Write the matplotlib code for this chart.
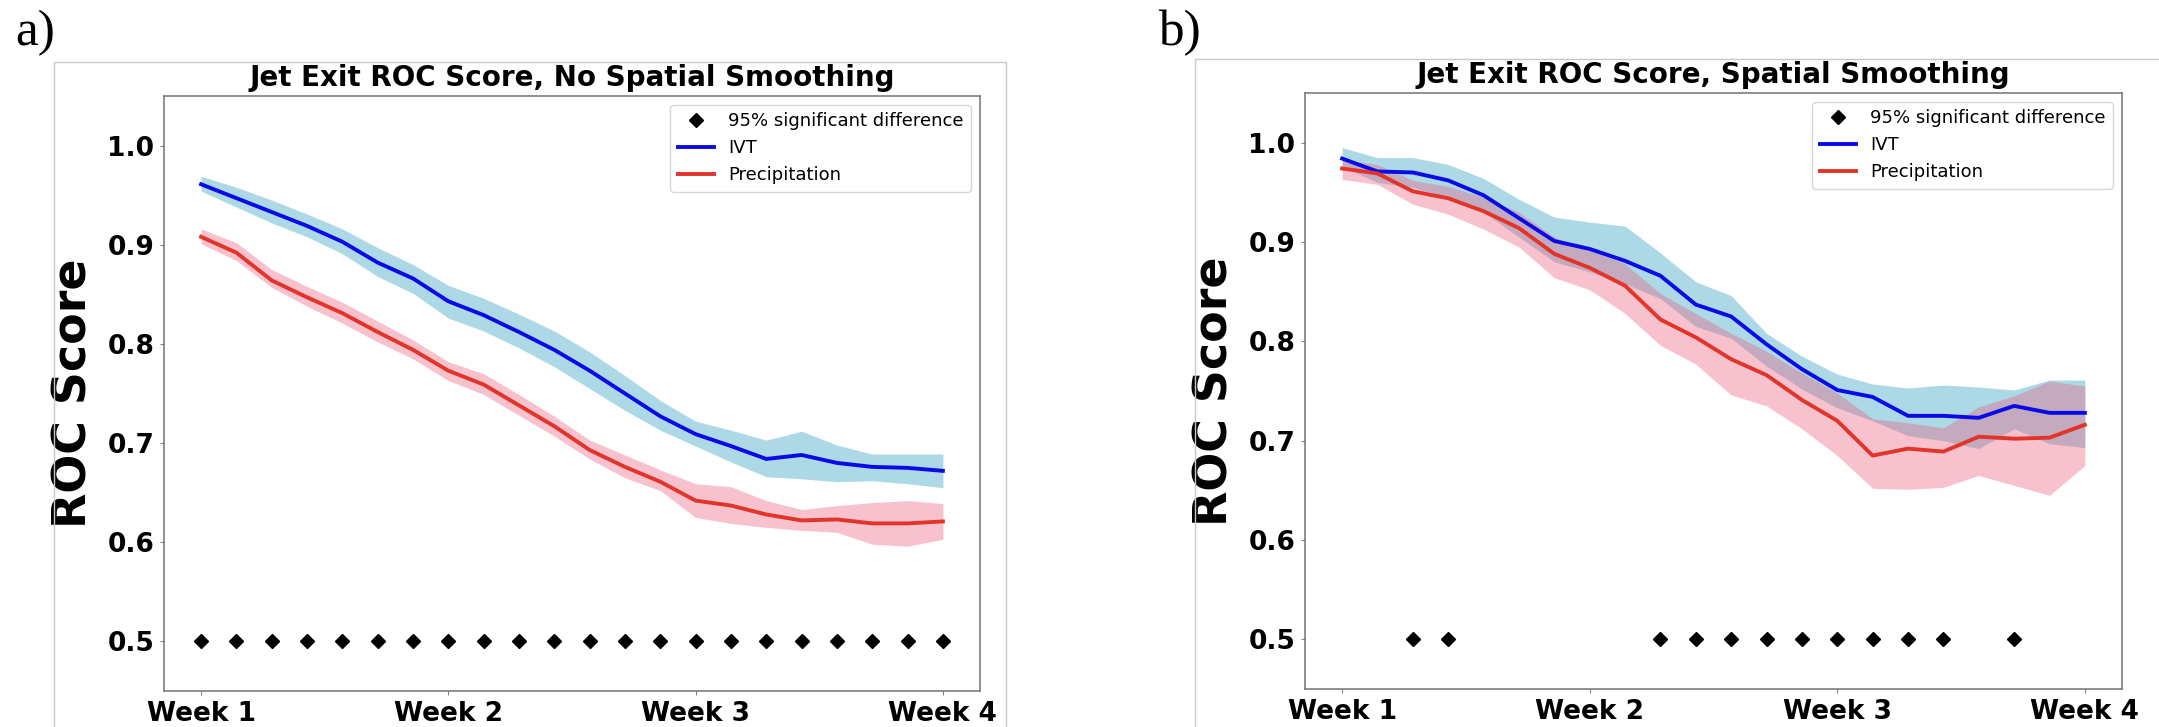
import matplotlib
matplotlib.use("Agg")
import matplotlib.pyplot as plt
from matplotlib.patches import Rectangle
import numpy as np

# x axis: 22 lead times, ticks at every 7th
weeks = ["Week 1", "Week 2", "Week 3", "Week 4"]
week_idx = [0, 7, 14, 21]

# panel a) no spatial smoothing
ivt_a = [0.961, 0.947, 0.933, 0.919, 0.903, 0.882, 0.866, 0.843, 0.829, 0.812, 0.794,
         0.773, 0.750, 0.727, 0.709, 0.697, 0.684, 0.688, 0.680, 0.676, 0.675, 0.672]
ivt_a_hi = [0.969, 0.958, 0.945, 0.931, 0.916, 0.897, 0.880, 0.859, 0.846, 0.830, 0.813,
            0.792, 0.768, 0.743, 0.722, 0.713, 0.703, 0.712, 0.698, 0.689, 0.689, 0.689]
ivt_a_lo = [0.954, 0.938, 0.922, 0.908, 0.891, 0.868, 0.851, 0.826, 0.813, 0.796, 0.777,
            0.755, 0.733, 0.713, 0.697, 0.681, 0.666, 0.664, 0.661, 0.662, 0.659, 0.655]

pr_a = [0.908, 0.892, 0.864, 0.847, 0.831, 0.812, 0.794, 0.773, 0.759, 0.738, 0.717,
        0.693, 0.676, 0.661, 0.642, 0.637, 0.628, 0.622, 0.623, 0.619, 0.619, 0.621]
pr_a_hi = [0.916, 0.902, 0.875, 0.858, 0.842, 0.823, 0.804, 0.782, 0.770, 0.749, 0.727,
           0.703, 0.688, 0.673, 0.659, 0.656, 0.642, 0.633, 0.637, 0.640, 0.642, 0.639]
pr_a_lo = [0.901, 0.884, 0.857, 0.838, 0.821, 0.802, 0.785, 0.763, 0.749, 0.728, 0.707,
           0.684, 0.665, 0.652, 0.625, 0.619, 0.615, 0.612, 0.610, 0.598, 0.596, 0.603]

sig_a = list(range(22))

# panel b) spatial smoothing
ivt_b = [0.984, 0.971, 0.970, 0.962, 0.947, 0.924, 0.901, 0.893, 0.881, 0.866, 0.837,
         0.825, 0.797, 0.772, 0.751, 0.744, 0.725, 0.725, 0.723, 0.735, 0.728, 0.728]
ivt_b_hi = [0.995, 0.985, 0.985, 0.978, 0.964, 0.943, 0.925, 0.920, 0.916, 0.889, 0.860,
            0.846, 0.808, 0.785, 0.767, 0.757, 0.753, 0.756, 0.754, 0.751, 0.761, 0.761]
ivt_b_lo = [0.976, 0.960, 0.955, 0.945, 0.930, 0.905, 0.880, 0.870, 0.858, 0.843, 0.815,
            0.803, 0.775, 0.752, 0.733, 0.720, 0.705, 0.700, 0.692, 0.712, 0.697, 0.693]

pr_b = [0.974, 0.969, 0.951, 0.944, 0.931, 0.914, 0.888, 0.874, 0.856, 0.822, 0.804,
        0.782, 0.766, 0.741, 0.720, 0.685, 0.692, 0.689, 0.704, 0.702, 0.703, 0.716]
pr_b_hi = [0.983, 0.978, 0.962, 0.956, 0.945, 0.930, 0.905, 0.892, 0.878, 0.848, 0.828,
           0.808, 0.790, 0.768, 0.748, 0.722, 0.718, 0.713, 0.734, 0.745, 0.760, 0.755]
pr_b_lo = [0.963, 0.958, 0.938, 0.928, 0.913, 0.895, 0.864, 0.852, 0.828, 0.796, 0.777,
           0.746, 0.735, 0.712, 0.685, 0.652, 0.651, 0.653, 0.665, 0.655, 0.645, 0.675]

sig_b = [2, 3, 9, 10, 11, 12, 13, 14, 15, 16, 17, 19]


def roc_panel(ax, title, ivt, ivt_lo, ivt_hi, pr, pr_lo, pr_hi, sig):
    x = np.arange(len(ivt))
    # significance markers go first so they lead the legend
    ax.plot(sig, [0.5] * len(sig), ls="none", marker="D", ms=7, color="black",
            label="95% significant difference")
    ax.fill_between(x, ivt_lo, ivt_hi, color="lightblue", lw=0)
    ax.fill_between(x, pr_lo, pr_hi, color="#eb5f80", alpha=0.38, lw=0)
    ax.plot(x, ivt, color="#0a0ae6", lw=2.8, label="IVT")
    ax.plot(x, pr, color="#e3342a", lw=2.8, label="Precipitation")

    ax.set_ylim(0.45, 1.05)
    ax.set_xticks(week_idx)
    ax.set_xticklabels(weeks)
    ax.set_yticks([0.5, 0.6, 0.7, 0.8, 0.9, 1.0])
    for lab in ax.get_xticklabels() + ax.get_yticklabels():
        lab.set_fontweight("bold")
        lab.set_fontsize(19)
    ax.tick_params(length=3, color="0.5", pad=4)
    for s in ax.spines.values():
        s.set_color("0.45")
        s.set_linewidth(1.1)
    ax.set_ylabel("ROC Score", fontsize=33, fontweight="bold", labelpad=8)
    ax.set_title(title, fontsize=20, fontweight="bold", pad=7)
    ax.legend(loc="upper right", fontsize=13)


fig = plt.figure(figsize=(21.59, 7.27), dpi=100)

# the two original figures had their own thin borders
fig.patches.append(Rectangle((54 / 2159, -0.01), (1006 - 54) / 2159, 1 - 62 / 727 + 0.01,
                             transform=fig.transFigure, fill=False, ec="0.78", lw=1))
fig.patches.append(Rectangle((1195 / 2159, -0.01), 0.5, 1 - 59 / 727 + 0.01,
                             transform=fig.transFigure, fill=False, ec="0.78", lw=1))

ax1 = fig.add_axes([164 / 2159, 1 - 691 / 727, 816 / 2159, 595 / 727])
ax2 = fig.add_axes([1305 / 2159, 1 - 689 / 727, 817 / 2159, 596 / 727])

roc_panel(ax1, "Jet Exit ROC Score, No Spatial Smoothing",
          ivt_a, ivt_a_lo, ivt_a_hi, pr_a, pr_a_lo, pr_a_hi, sig_a)
roc_panel(ax2, "Jet Exit ROC Score, Spatial Smoothing",
          ivt_b, ivt_b_lo, ivt_b_hi, pr_b, pr_b_lo, pr_b_hi, sig_b)

fig.text(15 / 2159, 1 - 45 / 727, "a)", fontsize=37, family="Liberation Serif",
         va="baseline", ha="left")
fig.text(1158 / 2159, 1 - 45 / 727, "b)", fontsize=37, family="Liberation Serif",
         va="baseline", ha="left")

fig.savefig("out.png", dpi=100)
